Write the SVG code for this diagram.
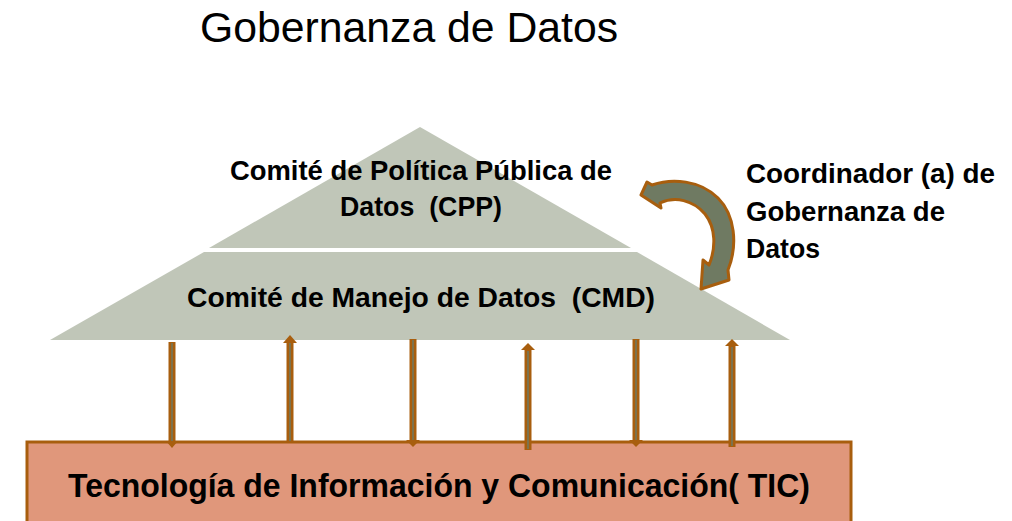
<svg xmlns="http://www.w3.org/2000/svg" width="1012" height="521" viewBox="0 0 1012 521">
<defs>
<style>
.t{font-family:"Liberation Sans",Arial,sans-serif;fill:#000;white-space:pre}
.b{font-weight:bold}
.tri{fill:#C0C6B8}
.shaft{stroke:#A85E0E;stroke-width:7;fill:none}
.core{stroke:#6F7A62;stroke-width:1.5;fill:none}
.head{fill:#A85E0E}
</style>
</defs>
<rect width="1012" height="521" fill="#fff"/>
<text class="t" x="200" y="42" font-size="42" textLength="418" lengthAdjust="spacingAndGlyphs">Gobernanza de Datos</text>

<g id="cpp">
<polygon class="tri" points="420,127 631,248 209,248"/>
<text class="t b" x="230" y="180" font-size="28" textLength="382" lengthAdjust="spacingAndGlyphs">Comité de Política Pública de</text>
<text class="t b" x="340" y="216" font-size="28" textLength="162" lengthAdjust="spacingAndGlyphs">Datos  (CPP)</text>
</g>

<g id="cmd">
<polygon class="tri" points="204,252 637,252 790,340 50,340"/>
<text class="t b" x="187" y="307" font-size="28" textLength="468" lengthAdjust="spacingAndGlyphs">Comité de Manejo de Datos  (CMD)</text>
</g>

<g id="coordinador">
<path d="M652,185 C672,178 700,180 718,198 C735,215 738,245 728,270 L729,280 L701,289 L703,260 L709,265 C716,248 716,228 705,214 C693,200 675,196 660,203 L661,208 L641,195 L647,182 Z" fill="#6F7A62" stroke="#A85E0E" stroke-width="3" stroke-linejoin="round"/>
<text class="t b" x="746" y="183" font-size="28" textLength="249" lengthAdjust="spacingAndGlyphs">Coordinador (a) de</text>
<text class="t b" x="746" y="221" font-size="28" textLength="199" lengthAdjust="spacingAndGlyphs">Gobernanza de</text>
<text class="t b" x="746" y="258" font-size="28" textLength="74" lengthAdjust="spacingAndGlyphs">Datos</text>
</g>

<g id="tic">
<rect x="27" y="442" width="824" height="90" fill="#E0977B" stroke="#A85E0E" stroke-width="3"/>
<text class="t b" x="68" y="497" font-size="33" textLength="742" lengthAdjust="spacingAndGlyphs">Tecnología de Información y Comunicación( TIC)</text>
</g>

<g id="connectors">
<line class="shaft" x1="172" y1="342" x2="172" y2="442"/><line class="core" x1="172" y1="343" x2="172" y2="442"/><polygon class="head" points="166,441 178,441 172,448"/>
<line class="shaft" x1="290" y1="342" x2="290" y2="442"/><line class="core" x1="290" y1="343" x2="290" y2="441"/><polygon class="head" points="283,343 297,343 290,335"/>
<line class="shaft" x1="413" y1="339" x2="413" y2="441"/><line class="core" x1="413" y1="340" x2="413" y2="440"/><polygon class="head" points="406,440 420,440 413,447"/>
<line class="shaft" x1="528" y1="350" x2="528" y2="450"/><line class="core" x1="528" y1="351" x2="528" y2="449"/><polygon class="head" points="521,350 535,350 528,343"/>
<line class="shaft" x1="636" y1="339" x2="636" y2="441"/><line class="core" x1="636" y1="340" x2="636" y2="440"/><polygon class="head" points="629,440 643,440 636,447"/>
<line class="shaft" x1="732" y1="346" x2="732" y2="447"/><line class="core" x1="732" y1="347" x2="732" y2="446"/><polygon class="head" points="725,346 739,346 732,339"/>
</g>
</svg>
